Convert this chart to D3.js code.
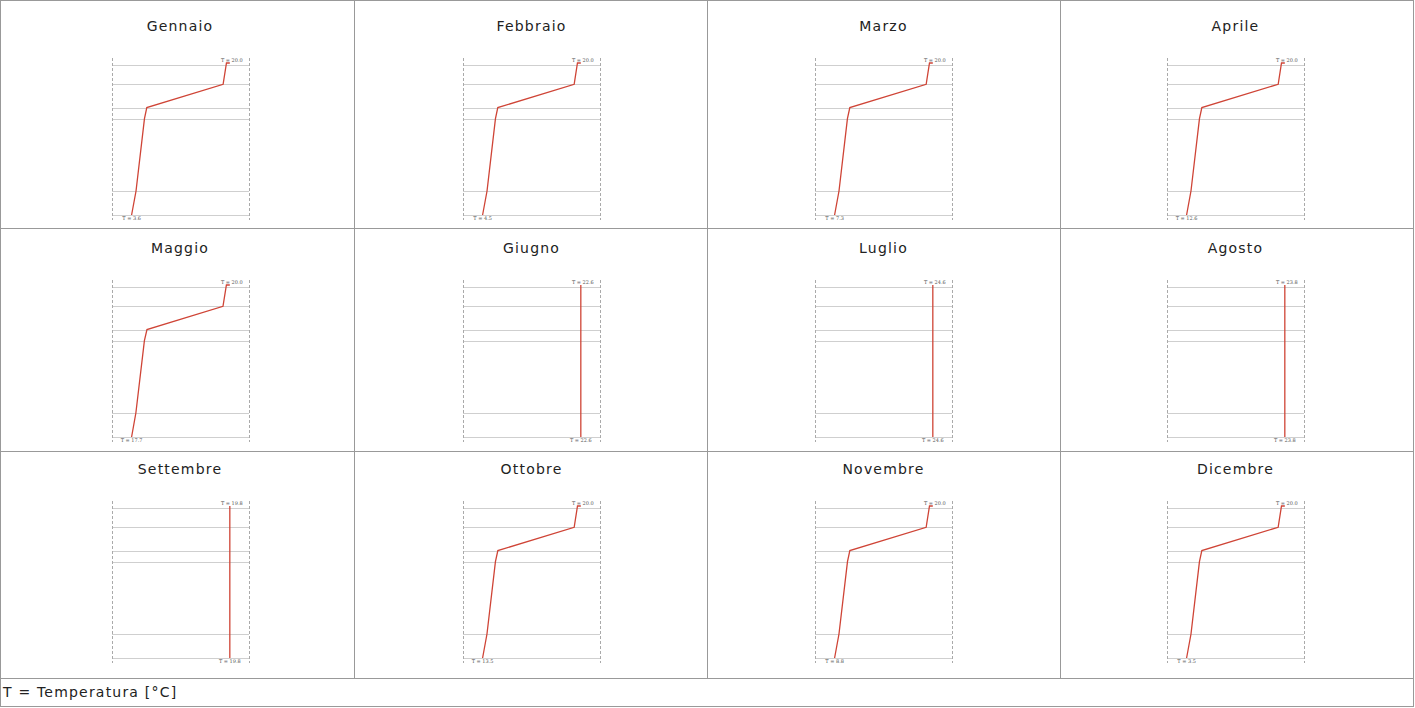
<!DOCTYPE html>
<html>
<head>
<meta charset="utf-8">
<script src="https://cdn.jsdelivr.net/npm/d3@7"></script>
<style>
  body { margin: 0; background: #fff; }
  svg { display: block; }
  .title { font-family: "DejaVu Sans", Verdana, sans-serif; font-size: 14px; letter-spacing: 1.2px; fill: #222; }
  .tlab { font-family: "DejaVu Serif", serif; font-size: 5px; fill: #555; }
</style>
</head>
<body>
<svg id="vis"></svg>
<script>
// months shown in the table, row by row
var months = ["Gennaio", "Febbraio", "Marzo", "Aprile",
              "Maggio", "Giugno", "Luglio", "Agosto",
              "Settembre", "Ottobre", "Novembre", "Dicembre"];

// layer boundaries through the wall (depth, arbitrary units, inside -> outside)
var layerDepths = [0, 19.3, 42.6, 53.6, 126, 150];

// depth of each profile point: inside air, inner surface, then the interfaces
var pointDepths = [-2, -2, 19.3, 42.6, 53.6, 126, 150];

// temperature at each profile point [°C], one list per month
var tGennaio   = [20.0, 19.44, 18.88, 6.14, 5.75, 4.34, 3.6];
var tFebbraio  = [20.0, 19.47, 18.95, 6.90, 6.53, 5.20, 4.5];
var tMarzo     = [20.0, 19.57, 19.14, 9.27, 8.96, 7.87, 7.3];
var tAprile    = [20.0, 19.75, 19.50, 13.75, 13.57, 12.93, 12.6];
var tMaggio    = [20.0, 19.92, 19.84, 18.06, 18.00, 17.80, 17.7];
var tGiugno    = [22.6, 22.6, 22.6, 22.6, 22.6, 22.6, 22.6];
var tLuglio    = [24.6, 24.6, 24.6, 24.6, 24.6, 24.6, 24.6];
var tAgosto    = [23.8, 23.8, 23.8, 23.8, 23.8, 23.8, 23.8];
var tSettembre = [19.8, 19.8, 19.8, 19.8, 19.8, 19.8, 19.8];
var tOttobre   = [20.0, 19.78, 19.56, 14.51, 14.35, 13.79, 13.5];
var tNovembre  = [20.0, 19.62, 19.24, 10.54, 10.27, 9.30, 8.8];
var tDicembre  = [20.0, 19.44, 18.88, 6.06, 5.66, 4.24, 3.5];

var profiles = [tGennaio, tFebbraio, tMarzo, tAprile, tMaggio, tGiugno,
                tLuglio, tAgosto, tSettembre, tOttobre, tNovembre, tDicembre];

var footerText = "T = Temperatura [°C]";

var W = 1415, H = 708;
var colX = [0, 354, 707, 1060, 1413];
var colCenter = [180, 531.5, 883.5, 1235.5];
var dividerY = [228, 451, 678];   // table row lines
var rowTop = [0, 221.5, 442.5];   // content origin of each row
var panelW = 137, panelTop = 65, panelH = 150;

var svg = d3.select("#vis").attr("width", W).attr("height", H);

// table grid
var grid = svg.append("g").attr("stroke", "#999").attr("shape-rendering", "crispEdges");
grid.append("rect")
    .attr("x", 0.5).attr("y", 0.5)
    .attr("width", W - 2).attr("height", H - 2)
    .attr("fill", "none");
dividerY.forEach(function(y)
{
    grid.append("line").attr("x1", 0).attr("x2", W - 1)
        .attr("y1", y + 0.5).attr("y2", y + 0.5);
});
colX.slice(1, 4).forEach(function(x)
{
    grid.append("line").attr("x1", x + 0.5).attr("x2", x + 0.5)
        .attr("y1", 0).attr("y2", dividerY[2]);
});

var y = d3.scaleLinear().domain([0, 150]).range([0, panelH]);

months.forEach(function(m, i)
{
    var c = i % 4, r = Math.floor(i / 4);
    var cx = colCenter[c];
    var top = Math.round(rowTop[r]);
    var cell = svg.append("g");

    cell.append("text").attr("class", "title")
        .attr("x", cx).attr("y", top + 31)
        .attr("text-anchor", "middle")
        .text(m);

    var temps = profiles[i];
    var lo = d3.min(temps), hi = d3.max(temps);
    if(lo == hi) lo = hi - 1;
    var x0 = Math.round(cx - panelW / 2);
    var x = d3.scaleLinear().domain([lo, hi])
        .range([x0 + 0.143 * panelW, x0 + 0.86 * panelW]);

    var g = cell.append("g").attr("transform", "translate(0," + (top + panelTop) + ")");

    // layer lines
    g.selectAll("line.layer").data(layerDepths).enter().append("line")
        .attr("class", "layer")
        .attr("x1", x0).attr("x2", x0 + panelW)
        .attr("y1", function(d) { return Math.round(y(d)) + 0.5; })
        .attr("y2", function(d) { return Math.round(y(d)) + 0.5; })
        .attr("stroke", "#cfcfcf");

    // dashed side borders
    [x0, x0 + panelW].forEach(function(bx)
    {
        g.append("line")
            .attr("x1", bx + 0.5).attr("x2", bx + 0.5)
            .attr("y1", y(-7)).attr("y2", y(155))
            .attr("stroke", "#aaa")
            .attr("stroke-dasharray", "3,2");
    });

    // temperature profile
    var pts = temps.map(function(t, k) { return [t, pointDepths[k]]; });
    g.append("path")
        .datum(pts)
        .attr("fill", "none")
        .attr("stroke", "#cf4436")
        .attr("stroke-width", 1.3)
        .attr("d", d3.line()
            .x(function(d) { return x(d[0]); })
            .y(function(d) { return y(d[1]); }));

    g.append("text").attr("class", "tlab")
        .attr("x", x(temps[0]) + 2).attr("y", y(-3.5))
        .attr("text-anchor", "middle")
        .text("T = " + temps[0].toFixed(1));
    g.append("text").attr("class", "tlab")
        .attr("x", x(temps[temps.length - 1])).attr("y", y(155))
        .attr("text-anchor", "middle")
        .text("T = " + temps[temps.length - 1].toFixed(1));
});

svg.append("text").attr("class", "title")
    .attr("x", 3).attr("y", 697)
    .text(footerText);
</script>
</body>
</html>
